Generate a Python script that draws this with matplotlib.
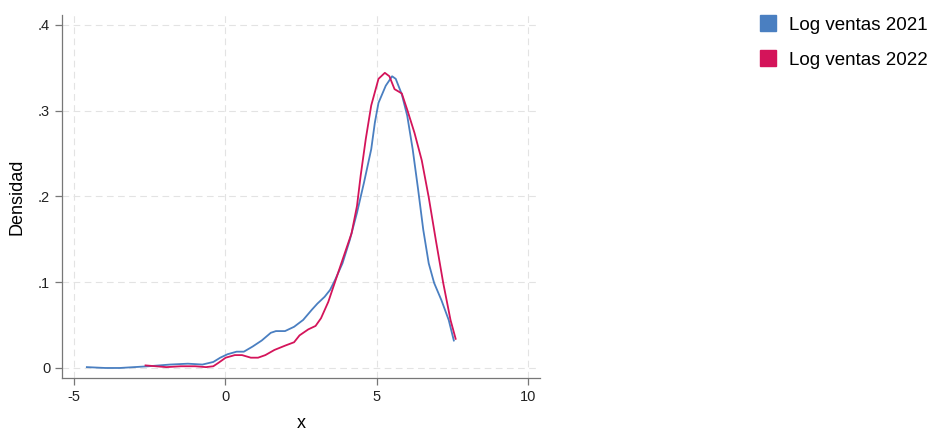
import matplotlib
matplotlib.use("Agg")
import matplotlib.pyplot as plt
from matplotlib.lines import Line2D

plt.rcParams['font.family'] = ['Liberation Sans', 'DejaVu Sans']

# kernel density curves
x_2021 = [-4.58, -3.97, -3.49, -3.02, -2.54, -1.83, -1.24, -0.76, -0.40, -0.17,
          0.07, 0.37, 0.61, 0.90, 1.20, 1.50, 1.67, 1.97, 2.27, 2.57,
          2.86, 3.04, 3.28, 3.46, 3.63, 3.87, 4.11, 4.35, 4.58, 4.82,
          4.94, 5.06, 5.30, 5.51, 5.63, 5.83, 6.01, 6.19, 6.37, 6.54,
          6.72, 6.90, 7.14, 7.38, 7.55]
y_2021 = [0.001, 0.000, 0.000, 0.001, 0.002, 0.004, 0.005, 0.004, 0.007, 0.012,
          0.016, 0.019, 0.019, 0.025, 0.032, 0.041, 0.043, 0.043, 0.048, 0.056,
          0.068, 0.075, 0.083, 0.091, 0.103, 0.122, 0.149, 0.181, 0.216, 0.255,
          0.286, 0.309, 0.329, 0.340, 0.337, 0.319, 0.294, 0.255, 0.208, 0.161,
          0.122, 0.099, 0.079, 0.056, 0.032]

x_2022 = [-2.64, -2.30, -1.95, -1.47, -1.00, -0.64, -0.40, -0.23, 0.01, 0.31,
          0.55, 0.84, 1.08, 1.32, 1.62, 1.97, 2.27, 2.45, 2.74, 2.98,
          3.16, 3.40, 3.63, 3.87, 4.17, 4.35, 4.47, 4.64, 4.82, 5.06,
          5.27, 5.42, 5.59, 5.83, 6.01, 6.25, 6.49, 6.72, 6.96, 7.20,
          7.44, 7.61]
y_2022 = [0.003, 0.002, 0.001, 0.002, 0.002, 0.001, 0.002, 0.006, 0.012, 0.015,
          0.015, 0.012, 0.012, 0.015, 0.021, 0.026, 0.030, 0.038, 0.045, 0.049,
          0.058, 0.077, 0.101, 0.126, 0.157, 0.189, 0.224, 0.267, 0.306, 0.337,
          0.344, 0.340, 0.325, 0.320, 0.301, 0.274, 0.242, 0.199, 0.148, 0.099,
          0.056, 0.034]

labels = ["Log ventas 2021", "Log ventas 2022"]
colors = ["#4a7fc1", "#d4145a"]
x_ticks = [-5, 0, 5, 10]
y_ticks = [0, 0.1, 0.2, 0.3, 0.4]
y_ticklabels = ["0", ".1", ".2", ".3", ".4"]

fig = plt.figure(figsize=(9.3, 4.34), dpi=100)
ax = fig.add_axes([0.0667, 0.129, 0.514, 0.837])

ax.plot(x_2021, y_2021, color=colors[0], lw=1.3)
ax.plot(x_2022, y_2022, color=colors[1], lw=1.3)

ax.set_xlim(-5.4, 10.4)
ax.set_ylim(-0.0117, 0.4117)
ax.set_xticks(x_ticks)
ax.set_xticklabels([str(t) for t in x_ticks])
ax.set_yticks(y_ticks)
ax.set_yticklabels(y_ticklabels)
ax.grid(True, color="#e3e3e3", ls=(0, (6, 4)), lw=0.8)
ax.set_axisbelow(True)

for s in ["top", "right"]:
    ax.spines[s].set_visible(False)
for s in ["left", "bottom"]:
    ax.spines[s].set_color("#777777")
    ax.spines[s].set_linewidth(0.9)
ax.tick_params(colors="#777777", labelcolor="#222222", labelsize=10.5, length=5, width=0.9)

ax.set_xlabel("x", fontsize=13, labelpad=8)
ax.set_ylabel("Densidad", fontsize=13, labelpad=9)

handles = [Line2D([], [], ls="none", marker="s", markersize=11, color=c) for c in colors]
fig.legend(handles, labels, loc="upper left", bbox_to_anchor=(0.798, 1.0),
           frameon=False, fontsize=13.5, labelspacing=0.95, handletextpad=0.6,
           handlelength=1.0)

fig.savefig("out.png", dpi=100)
